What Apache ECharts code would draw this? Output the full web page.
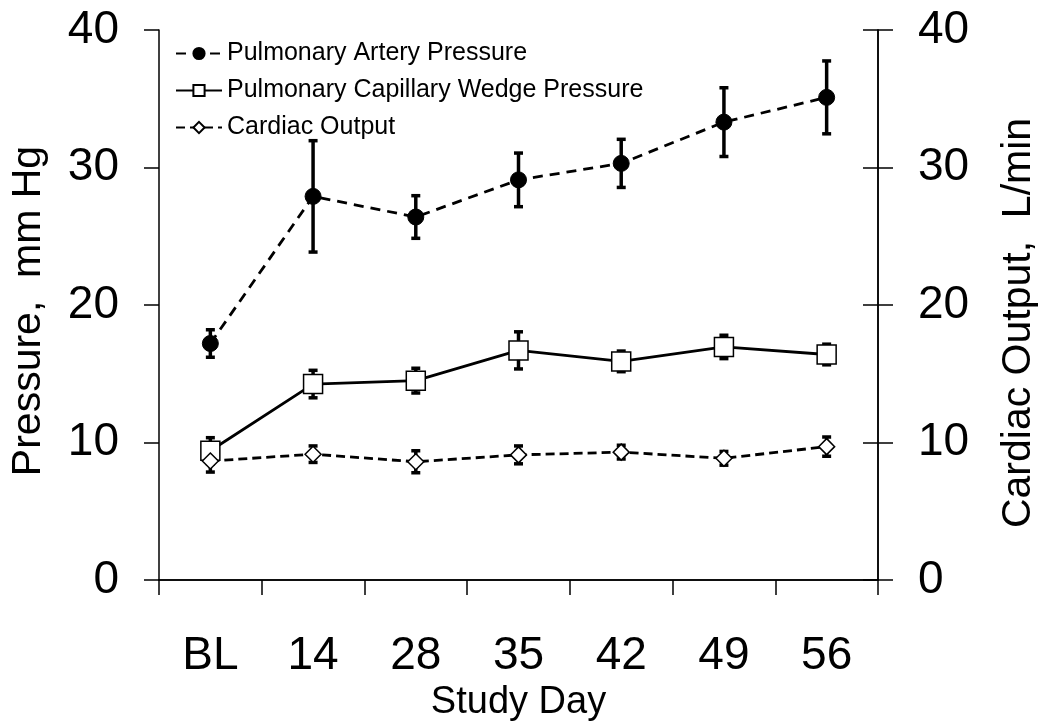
<!DOCTYPE html>
<html>
<head>
<meta charset="utf-8">
<script src="https://cdn.jsdelivr.net/npm/echarts@6/dist/echarts.min.js"></script>
<style>
  html, body { margin: 0; padding: 0; background: #fff; }
  #chart { width: 1050px; height: 728px; }
</style>
</head>
<body>
<div id="chart"></div>
<script>
// study days on the x axis
var days = ['BL', '14', '28', '35', '42', '49', '56'];

// mean values and +/- error
var papMean = [17.2, 27.9, 26.4, 29.1, 30.3, 33.3, 35.1];
var papErr  = [1.0, 4.05, 1.55, 1.95, 1.75, 2.5, 2.65];
var pcwpMean = [9.4, 14.25, 14.5, 16.7, 15.9, 16.95, 16.4];
var pcwpErr  = [0.95, 1.0, 0.9, 1.35, 0.75, 0.85, 0.75];
var coMean = [8.65, 9.15, 8.6, 9.1, 9.3, 8.85, 9.7];
var coErr  = [0.8, 0.6, 0.8, 0.65, 0.5, 0.5, 0.7];

var yTicks = [0, 10, 20, 30, 40];

var FONT = 'Liberation Sans, Arial, sans-serif';

function errData(mean, err) {
  var out = [];
  for (var i = 0; i < mean.length; i++) {
    out.push([i, mean[i] - err[i], mean[i] + err[i]]);
  }
  return out;
}

// vertical bar with small caps, drawn through the axis scales
function renderErr(params, api) {
  var lo = api.coord([api.value(0), api.value(1)]);
  var hi = api.coord([api.value(0), api.value(2)]);
  var cap = 4.5;
  var st = { stroke: '#000', lineWidth: 3.5 };
  return {
    type: 'group',
    children: [
      { type: 'line', shape: { x1: lo[0], y1: lo[1], x2: hi[0], y2: hi[1] }, style: st },
      { type: 'line', shape: { x1: lo[0] - cap, y1: lo[1], x2: lo[0] + cap, y2: lo[1] }, style: st },
      { type: 'line', shape: { x1: hi[0] - cap, y1: hi[1], x2: hi[0] + cap, y2: hi[1] }, style: st }
    ]
  };
}

function yAxisBase(pos) {
  return {
    type: 'value',
    position: pos,
    min: yTicks[0],
    max: yTicks[yTicks.length - 1],
    interval: 10,
    splitLine: { show: false },
    axisLine: { show: true, lineStyle: { color: '#000', width: 1.5 } },
    axisTick: { show: true, length: 15, lineStyle: { color: '#000', width: 1.5 } },
    axisLabel: { show: true, color: '#000', fontFamily: FONT, fontSize: 46, margin: 40 }
  };
}

var leftAxis = yAxisBase('left');
leftAxis.name = 'Pressure,  mm Hg';
leftAxis.nameLocation = 'middle';
leftAxis.nameRotate = 90;
leftAxis.nameGap = 110;
leftAxis.nameTextStyle = { color: '#000', fontFamily: FONT, fontSize: 41, padding: [0, 12, 0, 0] };

var rightAxis = yAxisBase('right');
rightAxis.name = 'Cardiac Output,  L/min';
rightAxis.nameLocation = 'middle';
rightAxis.nameRotate = 90;
rightAxis.nameGap = 120;
rightAxis.nameTextStyle = { color: '#000', fontFamily: FONT, fontSize: 41, padding: [0, 36, 0, 0] };

// inner half of the crossing ticks on the right axis
var rightInner = yAxisBase('right');
rightInner.axisTick.inside = true;
rightInner.axisLabel = { show: false };

var chart = echarts.init(document.getElementById('chart'));
chart.setOption({
  backgroundColor: '#fff',
  animation: false,
  grid: { left: 155, right: 172, top: 30, bottom: 148, containLabel: false },
  legend: {
    orient: 'vertical',
    left: 170,
    top: 36,
    itemWidth: 46,
    itemHeight: 14,
    itemGap: 12,
    textStyle: { color: '#000', fontFamily: FONT, fontSize: 25 },
    data: ['Pulmonary Artery Pressure', 'Pulmonary Capillary Wedge Pressure', 'Cardiac Output']
  },
  xAxis: [{
    type: 'category',
    data: days,
    boundaryGap: true,
    position: 'bottom',
    axisLine: { show: true, lineStyle: { color: '#000', width: 1.5 } },
    axisTick: { show: true, length: 15, lineStyle: { color: '#000', width: 1.5 } },
    axisLabel: { color: '#000', fontFamily: FONT, fontSize: 46, margin: 53 },
    name: 'Study Day',
    nameLocation: 'middle',
    nameGap: 102,
    nameTextStyle: { color: '#000', fontFamily: FONT, fontSize: 38 }
  }, {
    type: 'category',
    data: days,
    position: 'top',
    axisLine: { show: true, lineStyle: { color: '#000', width: 1.5 } },
    axisTick: { show: false },
    axisLabel: { show: false }
  }],
  yAxis: [leftAxis, rightAxis, rightInner],
  series: [
    {
      type: 'custom', name: 'papErr', xAxisIndex: 0, yAxisIndex: 0, z: 1,
      renderItem: renderErr, data: errData(papMean, papErr)
    },
    {
      type: 'custom', name: 'pcwpErr', xAxisIndex: 0, yAxisIndex: 0, z: 1,
      renderItem: renderErr, data: errData(pcwpMean, pcwpErr)
    },
    {
      type: 'custom', name: 'coErr', xAxisIndex: 0, yAxisIndex: 1, z: 1,
      renderItem: renderErr, data: errData(coMean, coErr)
    },
    {
      type: 'line', name: 'Pulmonary Artery Pressure', yAxisIndex: 0, z: 3,
      data: papMean,
      symbol: 'circle', symbolSize: 16,
      itemStyle: { color: '#000', borderColor: '#000', borderWidth: 1 },
      lineStyle: { color: '#000', width: 2.8, type: [10, 7] }
    },
    {
      type: 'line', name: 'Pulmonary Capillary Wedge Pressure', yAxisIndex: 0, z: 3,
      data: pcwpMean,
      symbol: 'rect', symbolSize: 19,
      itemStyle: { color: '#fff', borderColor: '#000', borderWidth: 1.5 },
      lineStyle: { color: '#000', width: 2.8, type: 'solid' }
    },
    {
      type: 'line', name: 'Cardiac Output', yAxisIndex: 1, z: 3,
      data: coMean,
      symbol: 'diamond', symbolSize: 16,
      itemStyle: { color: '#fff', borderColor: '#000', borderWidth: 1.5 },
      lineStyle: { color: '#000', width: 2.8, type: [9, 5] }
    }
  ]
});
</script>
</body>
</html>
